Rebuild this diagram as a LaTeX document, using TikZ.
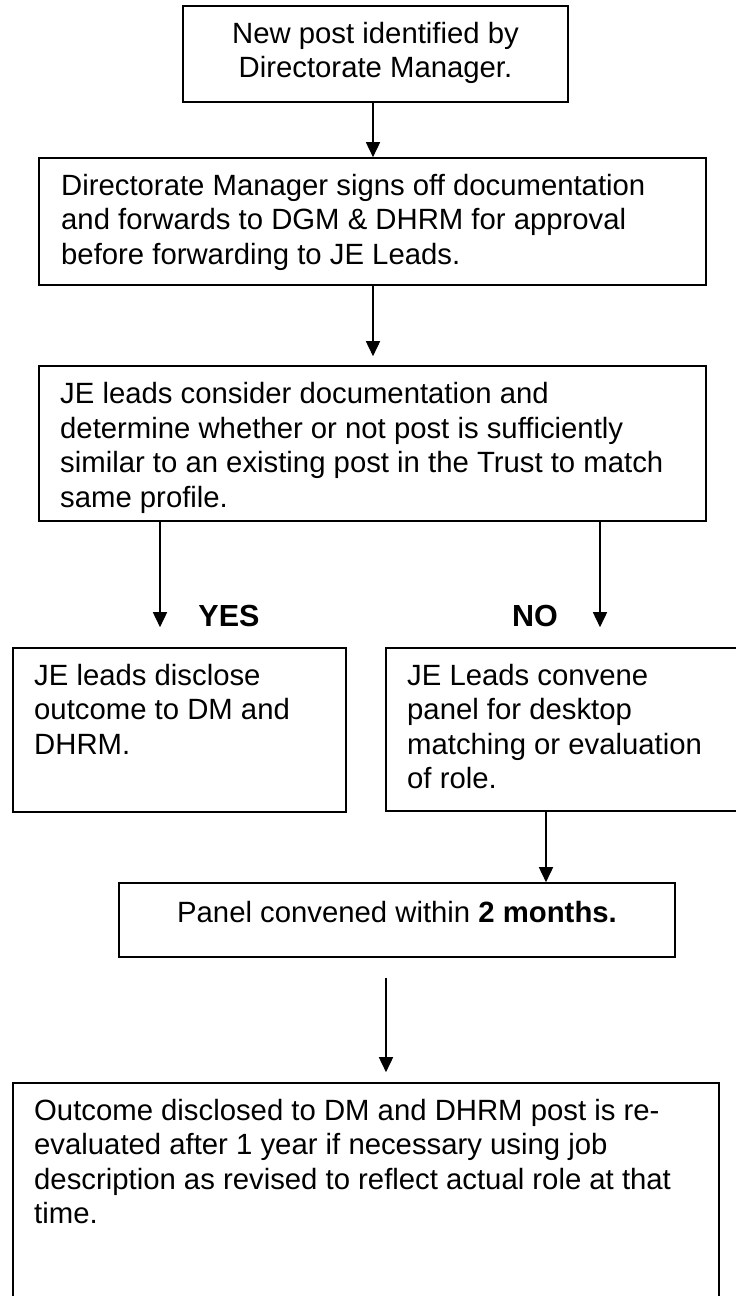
\documentclass[tikz,border=0pt]{standalone}
\usepackage{fontspec}
\setmainfont{Liberation Sans}
\usetikzlibrary{arrows.meta,positioning}

\tikzset{
  box/.style={draw,line width=1.6pt,inner sep=0pt},
  txt/.style={font=\fontsize{29.3}{34.5}\selectfont,align=left,inner sep=0pt},
  flow/.style={-{Triangle[length=15pt,width=14pt]},line width=1.6pt},
}

\begin{document}
\begin{tikzpicture}[x=1pt,y=-1pt]
  \useasboundingbox (0,0) rectangle (736,1296);
  \fill[white] (0,0) rectangle (736,1296);
  \clip (0,0) rectangle (736,1296);
  \foreach \nm/\cx/\cy/\w/\h in {newpost/375.5/54/385/96,signoff/372.5/221.5/667/127,
      consider/372.5/443.5/667/155,disclose/179.5/730/333/164,convene/566/729.5/360/163,
      panel/397/920/556/74,outcome/366/1194.5/706/223} {
    \node[box,minimum width=\w pt,minimum height=\h pt] (\nm) at (\cx,\cy) {};
  }
  \node[txt,align=center,anchor=base] (newposttext) at (375.5,77.5) {New post identified by\\Directorate Manager.};
  \node[txt,anchor=base west] (signofftext) at (61,264) {Directorate Manager signs off documentation\\and forwards to DGM \& DHRM for approval\\before forwarding to JE Leads.};
  \node[txt,anchor=base west] (considertext) at (60,507) {JE leads consider documentation and\\determine whether or not post is sufficiently\\similar to an existing post in the Trust to match\\same profile.};
  \node[txt,font=\fontsize{30.5}{34.5}\selectfont\bfseries,anchor=base] (yes) at (229,626) {YES};
  \node[txt,font=\fontsize{30.5}{34.5}\selectfont\bfseries,anchor=base] (no) at (535,626) {NO};
  \node[txt,anchor=base west] (disclosetext) at (34,754) {JE leads disclose\\outcome to DM and\\DHRM.};
  \node[txt,anchor=base west] (convenetext) at (407,788.5) {JE Leads convene\\panel for desktop\\matching or evaluation\\of role.};
  \node[txt,anchor=base] (paneltext) at (397,922) {Panel convened within \textbf{2 months.}};
  \node[txt,anchor=base west] (outcometext) at (34,1223.5) {Outcome disclosed to DM and DHRM post is re-\\evaluated after 1 year if necessary using job\\description as revised to reflect actual role at that\\time.};

  \coordinate (xmid) at (373,0);
  \coordinate (xyes) at (160,0);
  \coordinate (xno) at (600,0);
  \coordinate (xpanel) at (546,0);
  \coordinate (xout) at (386,0);
  \draw[flow] (newpost.south -| xmid) -- (signoff.north -| xmid);
  \draw[flow,shorten >=9pt] (signoff.south -| xmid) -- (consider.north -| xmid);
  \draw[flow,shorten >=20pt] (consider.south -| xyes) -- (disclose.north -| xyes);
  \draw[flow,shorten >=20pt] (consider.south -| xno) -- (convene.north -| xno);
  \draw[flow] (convene.south -| xpanel) -- (panel.north -| xpanel);
  \draw[flow,shorten <=20pt,shorten >=10pt] (panel.south -| xout) -- (outcome.north -| xout);
\end{tikzpicture}
\end{document}
